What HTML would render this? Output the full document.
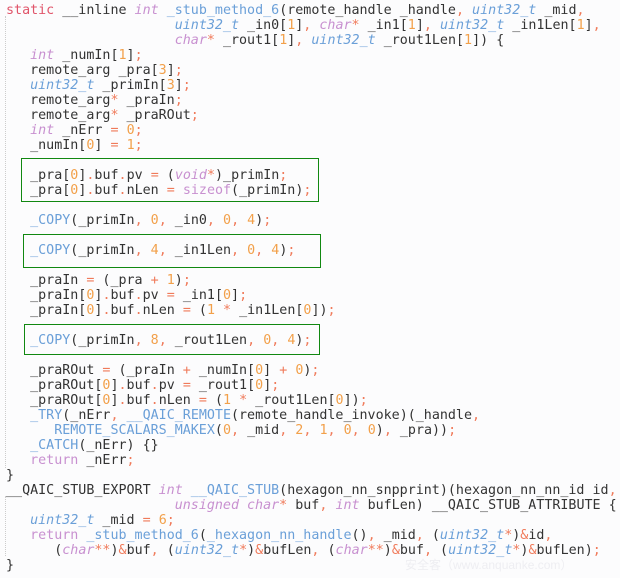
<!DOCTYPE html>
<html><head><meta charset="utf-8"><style>
html,body{margin:0;padding:0;background:#fcfcfd;}
body{width:620px;height:578px;position:relative;overflow:hidden;}
pre{position:absolute;left:6px;top:3px;margin:0;font-family:"DejaVu Sans Mono","Liberation Mono",monospace;font-size:13.35px;line-height:15px;color:#333;}
.k{color:#e0556a}.t{color:#c890d0;font-style:italic}.u{color:#6a9fd8;font-style:italic}
.n{color:#f2a04a}.o{color:#f07a5a}.f{color:#6a9fd8}.r{color:#c890d0}
.box{position:absolute;border:1px solid #118811;}
.g{position:absolute;left:5px;width:0;border-left:1px dotted #ccc;}
.wm{position:absolute;left:405px;top:556px;font-family:"Liberation Sans","Noto Sans CJK SC",sans-serif;font-size:12px;color:#eeeef2;}
</style></head><body>
<div class="g" style="top:16px;height:452px"></div>
<div class="g" style="top:496px;height:60px"></div>
<div class="box" style="left:21px;top:158px;width:296px;height:42px"></div>
<div class="box" style="left:23px;top:234px;width:296px;height:32px"></div>
<div class="box" style="left:24px;top:324px;width:294px;height:29px"></div>
<pre><span class="k">static</span> __inline <span class="t">int</span> <span class="f">_stub_method_6</span>(remote_handle _handle<span class="o">,</span> <span class="u">uint32_t</span> _mid<span class="o">,</span>
                     <span class="u">uint32_t</span> _in0[<span class="n">1</span>]<span class="o">,</span> <span class="t">char</span><span class="o">*</span> _in1[<span class="n">1</span>]<span class="o">,</span> <span class="u">uint32_t</span> _in1Len[<span class="n">1</span>]<span class="o">,</span>
                     <span class="t">char</span><span class="o">*</span> _rout1[<span class="n">1</span>]<span class="o">,</span> <span class="u">uint32_t</span> _rout1Len[<span class="n">1</span>]) {
   <span class="t">int</span> _numIn[<span class="n">1</span>]<span class="o">;</span>
   remote_arg _pra[<span class="n">3</span>]<span class="o">;</span>
   <span class="u">uint32_t</span> _primIn[<span class="n">3</span>]<span class="o">;</span>
   remote_arg<span class="o">*</span> _praIn<span class="o">;</span>
   remote_arg<span class="o">*</span> _praROut<span class="o">;</span>
   <span class="t">int</span> _nErr <span class="o">=</span> <span class="n">0</span><span class="o">;</span>
   _numIn[<span class="n">0</span>] <span class="o">=</span> <span class="n">1</span><span class="o">;</span>

   _pra[<span class="n">0</span>]<span class="o">.</span>buf<span class="o">.</span>pv <span class="o">=</span> (<span class="t">void</span><span class="o">*</span>)_primIn<span class="o">;</span>
   _pra[<span class="n">0</span>]<span class="o">.</span>buf<span class="o">.</span>nLen <span class="o">=</span> <span class="r">sizeof</span>(_primIn)<span class="o">;</span>

   <span class="f">_COPY</span>(_primIn<span class="o">,</span> <span class="n">0</span><span class="o">,</span> _in0<span class="o">,</span> <span class="n">0</span><span class="o">,</span> <span class="n">4</span>)<span class="o">;</span>

   <span class="f">_COPY</span>(_primIn<span class="o">,</span> <span class="n">4</span><span class="o">,</span> _in1Len<span class="o">,</span> <span class="n">0</span><span class="o">,</span> <span class="n">4</span>)<span class="o">;</span>

   _praIn <span class="o">=</span> (_pra <span class="o">+</span> <span class="n">1</span>)<span class="o">;</span>
   _praIn[<span class="n">0</span>]<span class="o">.</span>buf<span class="o">.</span>pv <span class="o">=</span> _in1[<span class="n">0</span>]<span class="o">;</span>
   _praIn[<span class="n">0</span>]<span class="o">.</span>buf<span class="o">.</span>nLen <span class="o">=</span> (<span class="n">1</span> <span class="o">*</span> _in1Len[<span class="n">0</span>])<span class="o">;</span>

   <span class="f">_COPY</span>(_primIn<span class="o">,</span> <span class="n">8</span><span class="o">,</span> _rout1Len<span class="o">,</span> <span class="n">0</span><span class="o">,</span> <span class="n">4</span>)<span class="o">;</span>

   _praROut <span class="o">=</span> (_praIn <span class="o">+</span> _numIn[<span class="n">0</span>] <span class="o">+</span> <span class="n">0</span>)<span class="o">;</span>
   _praROut[<span class="n">0</span>]<span class="o">.</span>buf<span class="o">.</span>pv <span class="o">=</span> _rout1[<span class="n">0</span>]<span class="o">;</span>
   _praROut[<span class="n">0</span>]<span class="o">.</span>buf<span class="o">.</span>nLen <span class="o">=</span> (<span class="n">1</span> <span class="o">*</span> _rout1Len[<span class="n">0</span>])<span class="o">;</span>
   <span class="f">_TRY</span>(_nErr<span class="o">,</span> <span class="f">__QAIC_REMOTE</span>(remote_handle_invoke)(_handle<span class="o">,</span>
      <span class="f">REMOTE_SCALARS_MAKEX</span>(<span class="n">0</span><span class="o">,</span> _mid<span class="o">,</span> <span class="n">2</span><span class="o">,</span> <span class="n">1</span><span class="o">,</span> <span class="n">0</span><span class="o">,</span> <span class="n">0</span>)<span class="o">,</span> _pra))<span class="o">;</span>
   <span class="f">_CATCH</span>(_nErr) {}
   <span class="r">return</span> _nErr<span class="o">;</span>
}
__QAIC_STUB_EXPORT <span class="t">int</span> <span class="f">__QAIC_STUB</span>(hexagon_nn_snpprint)(hexagon_nn_nn_id id<span class="o">,</span>
                     <span class="t">unsigned char</span><span class="o">*</span> buf<span class="o">,</span> <span class="t">int</span> bufLen) __QAIC_STUB_ATTRIBUTE {
   <span class="u">uint32_t</span> _mid <span class="o">=</span> <span class="n">6</span><span class="o">;</span>
   <span class="r">return</span> <span class="f">_stub_method_6</span>(<span class="f">_hexagon_nn_handle</span>()<span class="o">,</span> _mid<span class="o">,</span> (<span class="u">uint32_t</span><span class="o">*</span>)<span class="o">&amp;</span>id<span class="o">,</span>
      (<span class="t">char</span><span class="o">**</span>)<span class="o">&amp;</span>buf<span class="o">,</span> (<span class="u">uint32_t</span><span class="o">*</span>)<span class="o">&amp;</span>bufLen<span class="o">,</span> (<span class="t">char</span><span class="o">**</span>)<span class="o">&amp;</span>buf<span class="o">,</span> (<span class="u">uint32_t</span><span class="o">*</span>)<span class="o">&amp;</span>bufLen)<span class="o">;</span>
}</pre>
<div class="wm">安全客（www.anquanke.com）</div>
</body></html>
